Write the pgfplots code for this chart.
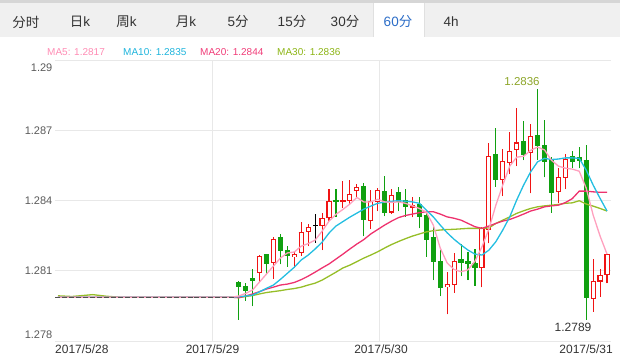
\documentclass[border=0pt]{standalone}
\usepackage{fontspec}
\setmainfont{Liberation Sans}
\newfontfamily\cjk{Noto Sans CJK SC}
\usepackage{pgfplots}
\usepackage{pgfplotstable}
\pgfplotsset{compat=1.18}
\definecolor{cred}{RGB}{240,20,20}
\definecolor{cgreen}{RGB}{16,160,16}
\definecolor{maA}{RGB}{255,160,190}
\definecolor{maB}{RGB}{35,190,225}
\definecolor{maC}{RGB}{238,50,110}
\definecolor{maD}{RGB}{150,190,40}
\definecolor{txA}{RGB}{255,140,180}
\definecolor{txB}{RGB}{30,180,220}
\definecolor{txC}{RGB}{240,60,120}
\definecolor{txD}{RGB}{140,180,20}
\definecolor{gridc}{RGB}{232,232,232}
\definecolor{tabbg}{RGB}{240,240,240}
\definecolor{topc}{RGB}{214,214,214}
\definecolor{tabline}{RGB}{224,224,224}
\definecolor{tabtext}{RGB}{51,51,51}
\definecolor{tabsel}{RGB}{45,110,200}
\definecolor{ylab}{RGB}{90,90,90}
\definecolor{dlab}{RGB}{51,51,51}
\definecolor{peak}{RGB}{140,165,40}
\definecolor{flatc}{RGB}{80,80,80}

\pgfplotstableread{
g o h l c
29 1.28093 1.28168 1.28053 1.28163
31 1.28136 1.28243 1.28066 1.28234
34 1.28160 1.28185 1.28113 1.28171
35 1.28177 1.28309 1.28163 1.28264
36 1.28266 1.28298 1.28205 1.28284
38 1.28295 1.28345 1.28188 1.28324
39 1.28329 1.28447 1.28313 1.28397
41 1.28395 1.28484 1.28368 1.28400
42 1.28400 1.28489 1.28383 1.28427
43 1.28444 1.28470 1.28410 1.28456
45 1.28314 1.28444 1.28278 1.28397
46 1.28397 1.28452 1.28355 1.28444
48 1.28352 1.28451 1.28343 1.28422
51 1.28372 1.28416 1.28328 1.28378
56 1.28032 1.28096 1.27914 1.28042
57 1.28042 1.28174 1.28006 1.28141
61 1.28115 1.28288 1.28029 1.28279
62 1.28277 1.28644 1.28217 1.28590
64 1.28490 1.28622 1.28419 1.28568
65 1.28564 1.28693 1.28513 1.28611
66 1.28619 1.28797 1.28547 1.28646
68 1.28605 1.28725 1.28430 1.28672
72 1.28440 1.28537 1.28388 1.28499
73 1.28499 1.28598 1.28449 1.28577
77 1.27982 1.28150 1.27925 1.28053
78 1.28057 1.28106 1.27989 1.28079
79 1.28086 1.28171 1.28046 1.28170
}\redt

\pgfplotstableread{
g o h l c
26 1.28050 1.28056 1.27890 1.28032
27 1.28032 1.28049 1.27972 1.28015
28 1.28066 1.28109 1.27949 1.28059
30 1.28171 1.28173 1.28086 1.28132
32 1.28243 1.28257 1.28127 1.28185
33 1.28188 1.28205 1.28117 1.28167
40 1.28402 1.28449 1.28330 1.28395
44 1.28461 1.28474 1.28248 1.28319
47 1.28439 1.28504 1.28333 1.28351
49 1.28436 1.28456 1.28355 1.28395
50 1.28400 1.28447 1.28330 1.28377
52 1.28385 1.28416 1.28281 1.28333
53 1.28338 1.28352 1.28160 1.28235
54 1.28241 1.28288 1.28060 1.28138
55 1.28141 1.28188 1.27992 1.28032
58 1.28150 1.28214 1.28077 1.28138
59 1.28141 1.28181 1.28060 1.28132
60 1.28134 1.28191 1.28036 1.28115
63 1.28598 1.28708 1.28458 1.28490
67 1.28654 1.28739 1.28572 1.28598
69 1.28679 1.28874 1.28572 1.28635
70 1.28635 1.28743 1.28499 1.28568
71 1.28575 1.28584 1.28348 1.28437
74 1.28588 1.28612 1.28537 1.28569
75 1.28584 1.28629 1.28537 1.28572
76 1.28572 1.28636 1.27890 1.27985
}\greent

\pgfplotstableread{
g o h l c
37 1.28294 1.28342 1.28220 1.28294
}\blackt

\pgfplotstableread{
g y
0 1.27987
1 1.27987
2 1.27987
3 1.27987
4 1.27987
5 1.27987
6 1.27987
7 1.27987
8 1.27987
9 1.27987
10 1.27987
11 1.27987
12 1.27987
13 1.27987
14 1.27987
15 1.27987
16 1.27987
17 1.27987
18 1.27987
19 1.27987
20 1.27987
21 1.27987
22 1.27987
23 1.27987
24 1.27987
25 1.27987
}\flatt

\pgfplotstableread{
g m5 m10 m20 m30
0 1.27987 1.27987 1.27987 1.27993
2 1.27987 1.27987 1.27987 1.27990
5 1.27987 1.27987 1.27987 1.27998
7 1.27987 1.27987 1.27987 1.27991
9 1.27987 1.27987 1.27987 1.27987
25 1.27987 1.27987 1.27987 1.27987
26 1.27992 1.27989 1.27985 1.27985
27 1.28003 1.27992 1.27992 1.27990
28 1.28018 1.27996 1.28001 1.27994
29 1.28052 1.28010 1.28011 1.28001
30 1.28086 1.28025 1.28022 1.28007
31 1.28120 1.28039 1.28030 1.28011
32 1.28154 1.28063 1.28039 1.28015
33 1.28176 1.28089 1.28043 1.28020
34 1.28180 1.28115 1.28050 1.28024
35 1.28205 1.28146 1.28062 1.28030
36 1.28216 1.28167 1.28077 1.28039
37 1.28231 1.28193 1.28094 1.28047
38 1.28269 1.28222 1.28112 1.28060
39 1.28312 1.28261 1.28129 1.28077
40 1.28341 1.28291 1.28150 1.28094
41 1.28362 1.28310 1.28171 1.28112
42 1.28385 1.28329 1.28193 1.28124
43 1.28413 1.28346 1.28214 1.28139
44 1.28394 1.28363 1.28233 1.28154
45 1.28394 1.28376 1.28257 1.28167
46 1.28405 1.28388 1.28276 1.28181
47 1.28394 1.28393 1.28295 1.28197
48 1.28392 1.28397 1.28312 1.28212
49 1.28394 1.28399 1.28327 1.28225
50 1.28388 1.28397 1.28336 1.28237
51 1.28377 1.28394 1.28342 1.28248
52 1.28366 1.28388 1.28348 1.28257
53 1.28350 1.28359 1.28352 1.28266
54 1.28295 1.28330 1.28352 1.28271
55 1.28197 1.28295 1.28342 1.28274
56 1.28133 1.28262 1.28330 1.28276
57 1.28105 1.28234 1.28324 1.28277
58 1.28096 1.28210 1.28316 1.28279
59 1.28104 1.28188 1.28302 1.28281
60 1.28141 1.28171 1.28288 1.28281
61 1.28202 1.28167 1.28281 1.28281
62 1.28278 1.28188 1.28291 1.28283
63 1.28380 1.28224 1.28302 1.28302
64 1.28466 1.28274 1.28312 1.28316
65 1.28547 1.28330 1.28319 1.28330
66 1.28585 1.28402 1.28330 1.28345
67 1.28589 1.28466 1.28342 1.28356
68 1.28614 1.28522 1.28355 1.28366
69 1.28628 1.28565 1.28363 1.28373
70 1.28616 1.28580 1.28373 1.28377
71 1.28572 1.28575 1.28377 1.28380
72 1.28547 1.28577 1.28380 1.28383
73 1.28538 1.28582 1.28391 1.28388
74 1.28534 1.28582 1.28408 1.28390
75 1.28525 1.28580 1.28440 1.28399
76 1.28453 1.28530 1.28440 1.28385
77 1.28338 1.28466 1.28437 1.28376
78 1.28248 1.28409 1.28435 1.28366
79 1.28171 1.28355 1.28435 1.28355
}\mat

\pgfplotsset{
  wick/.style={only marks, mark=*, mark size=0pt, mark options={draw=none, fill=none}, color=#1,
    error bars/.cd, y dir=plus, y explicit, error mark=none,
    error bar style={line width=1.1pt, draw=#1}},
}

\begin{document}
\begin{tikzpicture}[x=1pt,y=1pt]
\path[use as bounding box] (0,0) rectangle (620,355);
% tab bar
\fill[topc] (0,351.7) rectangle (620,355);
\fill[tabbg] (0,318.3) rectangle (620,351.7);
\fill[white] (373,318.3) rectangle (424,351.7);
\draw[tabline, line width=0.8pt] (373,318.3) -- (373,351.7);
\draw[tabline, line width=0.8pt] (424,318.3) -- (424,351.7);
\begin{scope}[every node/.style={inner sep=0pt, anchor=center, font=\fontsize{13.5}{16}\selectfont, text=tabtext}]
\node at (26,333) {{\cjk 分时}};
\node at (80,333) {{\cjk 日}k};
\node at (126.5,333) {{\cjk 周}k};
\node at (186,333) {{\cjk 月}k};
\node at (238,333) {5{\cjk 分}};
\node at (292,333) {15{\cjk 分}};
\node at (345,333) {30{\cjk 分}};
\node[text=tabsel] at (398,333) {60{\cjk 分}};
\node at (451,333) {4h};
\end{scope}
% legend
\begin{scope}[every node/.style={inner sep=0pt, anchor=west, font=\fontsize{10}{12}\selectfont}]
\node[text=txA] at (47,303) {MA5: 1.2817};
\node[text=txB] at (123,303) {MA10: 1.2835};
\node[text=txC] at (200,303) {MA20: 1.2844};
\node[text=txD] at (277,303) {MA30: 1.2836};
\end{scope}

\begin{axis}[
  at={(55pt,14pt)}, anchor=south west,
  scale only axis, width=556pt, height=281pt,
  xmin=-0.43, xmax=79.57, ymin=1.278, ymax=1.29,
  axis line style={draw=none}, tick style={draw=none},
  major tick length=0pt,
  ytick={1.278,1.281,1.284,1.287,1.29}, yticklabels={},
  xtick={22.16,46.2}, xticklabels={},
  grid=major, major grid style={draw=gridc, line width=0.9pt},
]
% flat doji
\addplot[only marks, mark=-, mark size=2.5pt, color=flatc, mark options={line width=0.9pt}] table[x=g, y=y]{\flatt};
% wicks
\addplot[wick=cred] table[x=g, y=l, y error plus expr={\thisrow{h}-\thisrow{l}}]{\redt};
\addplot[wick=cgreen] table[x=g, y=l, y error plus expr={\thisrow{h}-\thisrow{l}}]{\greent};
\addplot[wick=black] table[x=g, y=l, y error plus expr={\thisrow{h}-\thisrow{l}}]{\blackt};
% bodies green
\addplot[only marks, mark=*, mark size=0pt, mark options={draw=none, fill=none}, color=cgreen, error bars/.cd, y dir=both, y explicit, error mark=-, error mark options={rotate=90, line width=1pt, mark size=2.6pt, cgreen}, error bar style={line width=5.2pt, draw=cgreen}] table[x=g, y expr={(\thisrow{o}+\thisrow{c})/2}, y error expr={(\thisrow{o}-\thisrow{c})/2}]{\greent};
% bodies red outline
\addplot[only marks, mark=*, mark size=0pt, mark options={draw=none, fill=none}, color=cred, error bars/.cd, y dir=both, y explicit, error mark=-, error mark options={rotate=90, line width=1.1pt, mark size=2.6pt, cred}, error bar style={line width=5.2pt, draw=cred}] table[x=g, y expr={(\thisrow{o}+\thisrow{c})/2}, y error expr={(\thisrow{c}-\thisrow{o})/2}]{\redt};
% red inner white
\addplot[only marks, mark=*, mark size=0pt, mark options={draw=none, fill=none}, color=white, restrict expr to domain={\thisrow{c}-\thisrow{o}}{0.00007:1}, error bars/.cd, y dir=both, y explicit, error mark=none, error bar style={line width=3pt, draw=white}] table[x=g, y expr={(\thisrow{o}+\thisrow{c})/2}, y error expr={(\thisrow{c}-\thisrow{o})/2-0.0000235}]{\redt};
% black doji body
\addplot[only marks, mark=-, mark size=2.6pt, color=black, mark options={line width=1.1pt}] table[x=g, y=o]{\blackt};
% MA lines
\addplot[maD, line width=1.3pt, mark=none, line join=round] table[x=g, y=m30]{\mat};
\addplot[maC, line width=1.3pt, mark=none, line join=round] table[x=g, y=m20]{\mat};
\addplot[maB, line width=1.3pt, mark=none, line join=round] table[x=g, y=m10]{\mat};
\addplot[maA, line width=1.3pt, mark=none, line join=round] table[x=g, y=m5]{\mat};
\end{axis}

% y labels
\begin{scope}[every node/.style={inner sep=0pt, anchor=east, font=\fontsize{11}{13}\selectfont, text=ylab}]
\node at (52.5,287) {1.29};
\node at (52.5,224.5) {1.287};
\node at (52.5,154.7) {1.284};
\node at (52.5,84) {1.281};
\node at (52.5,20) {1.278};
\end{scope}
% date labels
\begin{scope}[every node/.style={inner sep=0pt, font=\fontsize{12}{14}\selectfont, text=dlab}]
\node[anchor=west] at (55,5.5) {2017/5/28};
\node[anchor=center] at (212.5,5.5) {2017/5/29};
\node[anchor=center] at (381,5.5) {2017/5/30};
\node[anchor=east] at (613,5.5) {2017/5/31};
\end{scope}
\node[inner sep=0pt, font=\fontsize{11.5}{14}\selectfont, text=peak] at (522,273) {1.2836};
\node[inner sep=0pt, font=\fontsize{12}{14}\selectfont, text=dlab] at (573,28) {1.2789};
\end{tikzpicture}
\end{document}
